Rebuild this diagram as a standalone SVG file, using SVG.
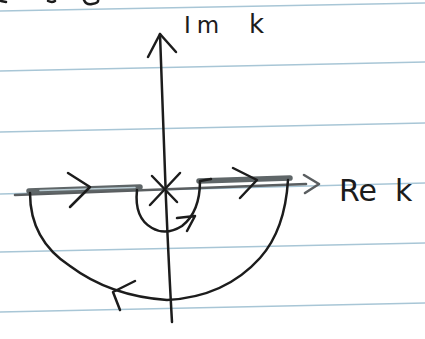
<svg xmlns="http://www.w3.org/2000/svg" width="425" height="339" viewBox="0 0 425 339">
<style>
.rule{stroke:#a8c6d6;stroke-width:1.4;fill:none}
.ink{stroke:#1c1c1c;stroke-width:2.5;fill:none;stroke-linecap:round;stroke-linejoin:round}
.gray{stroke:#5a5e60;stroke-width:2.6;fill:none;stroke-linecap:round;stroke-linejoin:round}
.hl{stroke:#5f6668;stroke-width:5.5;fill:none;stroke-linecap:round}
.hlin{stroke:#b9cbd2;stroke-width:1.6;fill:none;stroke-linecap:round}
.lbl{font-family:"DejaVu Sans","Liberation Sans",sans-serif;fill:#1c1c1c}
</style>
<rect width="425" height="339" fill="#ffffff"/>
<g id="paper">
<path class="rule" d="M0 11 L425 3"/>
<path class="rule" d="M0 71 L425 62"/>
<path class="rule" d="M0 132 L425 123"/>
<path class="rule" d="M0 194 L425 183"/>
<path class="rule" d="M0 252 L425 243"/>
<path class="rule" d="M0 312 L425 303"/>
<path class="ink" d="M1 1 L6 2 M48 1 Q52 3 55 1 M84 0 Q86 5 92 4 Q99 3 98 0"/>
</g>
<g id="connectors">
<path id="im-axis" class="ink" d="M160 34 Q164 150 166 200 Q169 270 172 322"/>
<path class="ink" d="M148 57 L160 34 L176 52"/>
<path id="re-axis" class="gray" d="M15 195 L306 184"/>
<path class="gray" d="M304 175 L319 184 L305 193"/>
<path class="hl" d="M29 191 L140 187"/>
<path class="hlin" d="M40 190.5 L135 187.5"/>
<path class="hl" d="M199 181 L290 178"/>
<path class="ink" d="M68 173 L90 187 L70 207"/>
<path class="ink" d="M233 168 L257 180 L240 198"/>
<path id="small-arc" class="ink" d="M137 190 Q134 218 152 228 Q166 236 182 226 Q200 212 200 181 L211 179"/>
<path class="ink" d="M177 218 L195 216 L187 231"/>
<path id="big-arc" class="ink" d="M30 193 Q30 240 70 266 Q110 296 167 300 Q225 297 260 258 Q285 230 288 180"/>
<path class="ink" d="M135 281 L113 292 L120 310"/>
</g>
<g id="origin">
<path class="ink" d="M152 176 L177 202 M180 173 L150 205"/>
</g>
<g id="labels">
<text class="lbl" x="184" y="33" font-size="23" letter-spacing="6">Im <tspan x="249" font-size="26" letter-spacing="0">k</tspan></text>
<text class="lbl" x="339" y="201" font-size="30">Re <tspan x="395">k</tspan></text>
</g>
</svg>
